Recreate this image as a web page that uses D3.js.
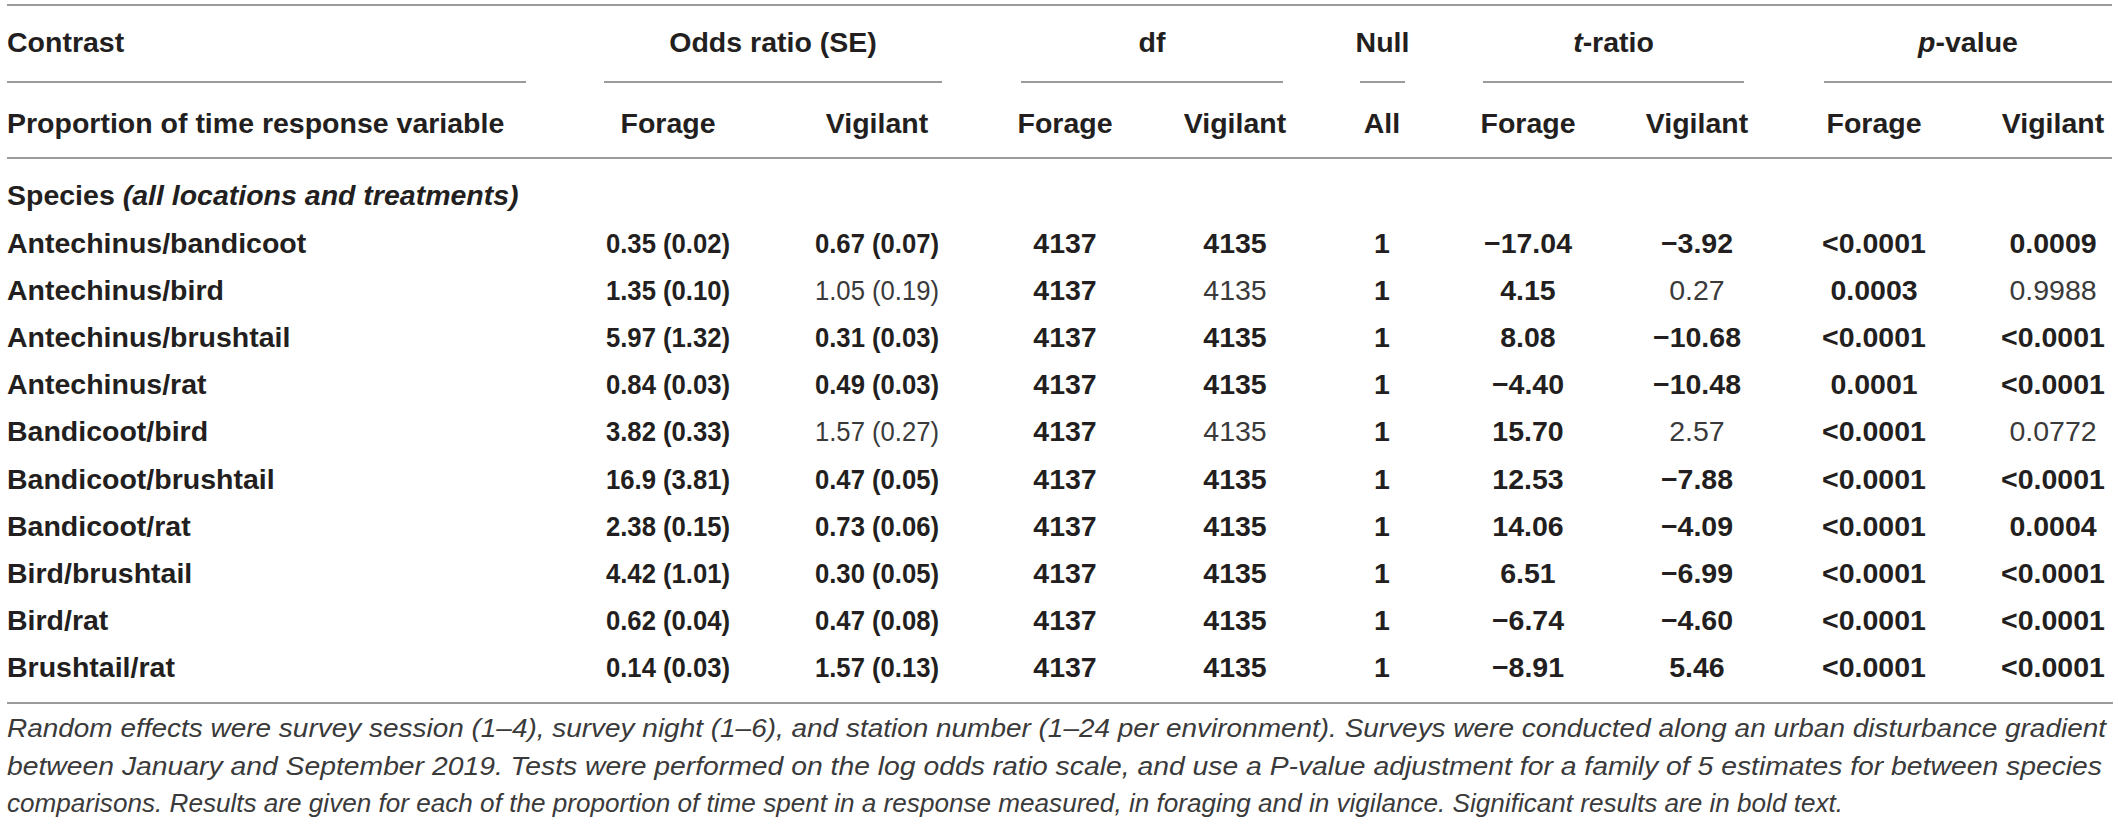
<!DOCTYPE html>
<html><head><meta charset="utf-8">
<script src="https://cdn.jsdelivr.net/npm/d3@7"></script>
<style>body{margin:0;background:#fff}svg{display:block}</style>
</head><body><svg id="c"></svg>
<script>
// ---- DATA ----
const contrasts = ["Antechinus/bandicoot","Antechinus/bird","Antechinus/brushtail","Antechinus/rat","Bandicoot/bird","Bandicoot/brushtail","Bandicoot/rat","Bird/brushtail","Bird/rat","Brushtail/rat"];
const oddsForage   = ["0.35 (0.02)","1.35 (0.10)","5.97 (1.32)","0.84 (0.03)","3.82 (0.33)","16.9 (3.81)","2.38 (0.15)","4.42 (1.01)","0.62 (0.04)","0.14 (0.03)"];
const oddsVigilant = ["0.67 (0.07)","1.05 (0.19)","0.31 (0.03)","0.49 (0.03)","1.57 (0.27)","0.47 (0.05)","0.73 (0.06)","0.30 (0.05)","0.47 (0.08)","1.57 (0.13)"];
const dfForage     = [4137,4137,4137,4137,4137,4137,4137,4137,4137,4137];
const dfVigilant   = [4135,4135,4135,4135,4135,4135,4135,4135,4135,4135];
const nullAll      = [1,1,1,1,1,1,1,1,1,1];
const tForage      = ["−17.04","4.15","8.08","−4.40","15.70","12.53","14.06","6.51","−6.74","−8.91"];
const tVigilant    = ["−3.92","0.27","−10.68","−10.48","2.57","−7.88","−4.09","−6.99","−4.60","5.46"];
const pForage      = ["<0.0001","0.0003","<0.0001","0.0001","<0.0001","<0.0001","<0.0001","<0.0001","<0.0001","<0.0001"];
const pVigilant    = ["0.0009","0.9988","<0.0001","<0.0001","0.0772","<0.0001","0.0004","<0.0001","<0.0001","<0.0001"];
const sigForage    = [true,true,true,true,true,true,true,true,true,true];
const sigVigilant  = [true,false,true,true,false,true,true,true,true,true];
const subHeaders   = ["Forage","Vigilant","Forage","Vigilant","All","Forage","Vigilant","Forage","Vigilant"];
const footnote = [
  "Random effects were survey session (1–4), survey night (1–6), and station number (1–24 per environment). Surveys were conducted along an urban disturbance gradient",
  "between January and September 2019. Tests were performed on the log odds ratio scale, and use a P-value adjustment for a family of 5 estimates for between species",
  "comparisons. Results are given for each of the proportion of time spent in a response measured, in foraging and in vigilance. Significant results are in bold text."
];

// ---- LAYOUT ----
const W = 2118, H = 826;
const FONT = "'Liberation Sans', Arial, Helvetica, sans-serif";
const TXT = "#231f20", RULE = "#7a7a7a";
const colKeys = ["oF","oV","dF","dV","nA","tF","tV","pF","pV"];
const colX = d3.scaleOrdinal().domain(colKeys).range([668,877,1065,1235,1382,1528,1697,1874,2053]);
const columns = [
  {key:"oF", vals:oddsForage,   sig:sigForage,   squeeze:0.9},
  {key:"oV", vals:oddsVigilant, sig:sigVigilant, squeeze:0.9},
  {key:"dF", vals:dfForage,     sig:sigForage},
  {key:"dV", vals:dfVigilant,   sig:sigVigilant},
  {key:"nA", vals:nullAll,      sig:sigForage},
  {key:"tF", vals:tForage,      sig:sigForage},
  {key:"tV", vals:tVigilant,    sig:sigVigilant},
  {key:"pF", vals:pForage,      sig:sigForage},
  {key:"pV", vals:pVigilant,    sig:sigVigilant}
];
const groups = [
  {parts:[["Odds ratio (SE)",false]], u:[604,942]},
  {parts:[["df",false]], u:[1021,1283]},
  {parts:[["Null",false]], u:[1360,1405]},
  {parts:[["t",true],["-ratio",false]], u:[1483,1744]},
  {parts:[["p",true],["-value",false]], u:[1824,2112]}
];
const y = d3.scalePoint().domain(contrasts).range([242,666]);
const fs = 28.5, base = 11;

const svg = d3.select("#c").attr("width",W).attr("height",H);
svg.append("rect").attr("width",W).attr("height",H).attr("fill","#fff");

function rule(x1,x2,yy){
  svg.append("line").attr("x1",x1).attr("x2",x2).attr("y1",yy).attr("y2",yy)
    .attr("stroke",RULE).attr("stroke-width",1.6);
}
rule(7,2112,5);
rule(7,526,82);
groups.forEach(g=>rule(g.u[0],g.u[1],82));
rule(7,2112,158);
rule(7,2113,703);

const t = svg.append("g").attr("font-family",FONT).attr("font-size",fs).attr("fill",TXT);

// Header row 1
t.append("text").attr("x",7).attr("y",52).attr("font-weight","bold").text("Contrast");
groups.forEach(g=>{
  const tx = t.append("text").attr("x",(g.u[0]+g.u[1])/2).attr("y",52)
    .attr("text-anchor","middle").attr("font-weight","bold");
  g.parts.forEach(p=>tx.append("tspan").attr("font-style",p[1]?"italic":"normal").text(p[0]));
});
// Header row 2
t.append("text").attr("x",7).attr("y",133).attr("font-weight","bold").text("Proportion of time response variable");
t.selectAll("text.sub").data(subHeaders).join("text").attr("class","sub")
  .attr("x",(d,i)=>colX(colKeys[i])).attr("y",133).attr("text-anchor","middle")
  .attr("font-weight","bold").text(d=>d);

// Section label
const sp = t.append("text").attr("x",7).attr("y",205).attr("font-weight","bold");
sp.append("tspan").text("Species ");
sp.append("tspan").attr("font-style","italic").text("(all locations and treatments)");

// Row labels
t.selectAll("text.lab").data(contrasts).join("text").attr("class","lab")
  .attr("x",7).attr("y",d=>y(d)+base).attr("font-weight","bold").text(d=>d);

// Cells
columns.forEach(c=>{
  const sel = t.selectAll("text.c"+c.key).data(c.vals).join("text").attr("class","c"+c.key)
    .attr("x",colX(c.key)).attr("y",(d,i)=>y(contrasts[i])+base)
    .attr("text-anchor","middle")
    .attr("font-weight",(d,i)=>c.sig[i]?"bold":"normal")
    .attr("fill",(d,i)=>c.sig[i]?TXT:"#3a3a3a")
    .text(d=>d);
  if (c.squeeze) {
    sel.each(function(){
      const w = this.getComputedTextLength();
      d3.select(this).attr("textLength",w*c.squeeze).attr("lengthAdjust","spacingAndGlyphs");
    });
  }
});

// Footnote
const fn = svg.append("g").attr("font-family",FONT).attr("font-size",26)
  .attr("font-style","italic").attr("fill","#3a3a3a");
const fy = [737,775,812];
const ends = [2106,2102,1843];
footnote.forEach((s,i)=>{
  fn.append("text").attr("x",7).attr("y",fy[i]).text(s)
    .attr("textLength",ends[i]-7).attr("lengthAdjust","spacingAndGlyphs");
});
</script></body></html>
